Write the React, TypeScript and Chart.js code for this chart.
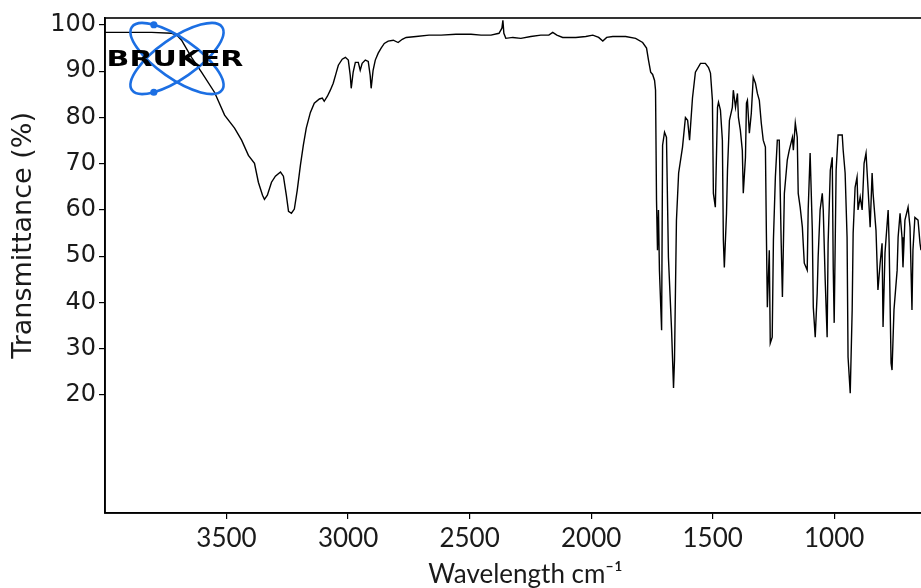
import React, { useEffect, useRef } from 'react';
import { Chart, registerables } from 'chart.js';

Chart.register(...registerables);

// Wavenumber (cm^-1) and transmittance (%)
const wavenumbers = [4000,3808,3726,3705,3685,3644,3603,3549,3508,3467,3438,3410,3385,3369,3352,3344,3332,3315,3299,3278,3266,3254,3245,3233,3221,3209,3196,3184,3172,3155,3139,3118,3106,3098,3085,3073,3061,3048,3040,3024,3011,2999,2991,2987,2979,2970,2958,2950,2942,2929,2917,2909,2905,2897,2888,2876,2864,2851,2835,2814,2794,2777,2761,2720,2667,2617,2556,2494,2453,2412,2379,2367,2363,2359,2351,2322,2289,2248,2207,2174,2158,2141,2117,2063,2022,1993,1969,1952,1936,1911,1858,1817,1788,1772,1764,1755,1747,1739,1735,1731,1727,1723,1719,1710,1706,1698,1690,1682,1669,1661,1657,1649,1640,1624,1612,1603,1595,1583,1571,1550,1530,1517,1509,1501,1497,1489,1480,1476,1468,1460,1456,1452,1443,1439,1431,1419,1415,1406,1398,1394,1386,1378,1374,1365,1361,1357,1349,1341,1333,1324,1316,1308,1300,1292,1283,1279,1275,1267,1263,1255,1250,1242,1234,1226,1218,1213,1205,1193,1185,1172,1168,1160,1152,1148,1140,1131,1123,1111,1107,1099,1090,1086,1078,1070,1066,1058,1049,1045,1037,1029,1025,1016,1008,1004,1000,992,984,967,963,955,947,943,934,926,922,914,906,902,893,885,877,869,861,852,844,840,828,820,811,803,799,791,778,774,766,762,754,741,737,729,721,717,709,696,688,680,676,668,655,647,643];

const transmittance = [98.4,98.4,98.2,97.8,96.7,93.0,89.8,85.4,80.5,77.7,75.1,71.8,70.1,66.0,63.2,62.3,63.2,66.0,67.3,68.2,67.3,63.2,59.7,59.3,60.2,64.3,69.7,74.0,77.7,81.1,83.1,84.0,84.2,83.5,84.6,85.9,87.4,89.8,91.3,92.6,93.0,92.4,89.1,86.3,89.8,91.9,91.9,90.2,91.7,92.4,92.1,89.1,86.3,90.2,92.4,93.9,95.0,96.0,96.5,96.7,96.2,96.9,97.3,97.5,97.8,97.8,98.0,98.0,97.8,97.8,98.2,99.3,101.0,98.2,97.1,97.3,97.1,97.5,97.8,97.8,98.4,97.8,97.3,97.3,97.5,97.8,97.3,96.5,97.3,97.5,97.5,97.1,96.2,95.0,92.4,89.8,89.3,88.0,85.9,62.1,51.3,60.0,47.0,34.0,74.0,76.8,75.7,49.8,34.0,21.5,27.6,57.8,68.0,73.6,80.0,79.4,75.1,84.2,89.8,91.7,91.7,90.8,89.6,83.7,63.6,60.6,82.2,83.3,81.6,75.1,53.5,47.6,59.3,68.6,79.4,82.2,85.9,82.2,85.2,80.0,77.2,72.9,63.6,71.4,83.1,83.7,76.6,80.9,88.7,87.4,85.2,83.7,78.8,75.1,73.6,55.0,39.0,51.3,31.2,32.5,53.5,67.1,75.1,75.1,52.8,41.2,63.6,70.8,72.9,75.7,72.9,78.8,75.7,63.6,60.6,56.3,48.5,47.0,60.0,72.3,55.6,39.0,32.5,42.0,49.8,60.0,63.6,60.0,44.8,32.5,52.8,68.6,71.4,47.6,35.6,68.6,76.2,76.2,72.9,68.0,54.1,28.2,20.4,38.4,55.0,64.9,67.1,60.0,62.8,60.0,70.1,72.3,64.9,56.3,68.0,63.6,55.6,42.7,48.5,52.8,34.7,50.7,60.0,52.8,26.9,25.4,38.4,47.0,54.1,59.3,54.1,47.6,57.8,60.6,56.3,38.4,51.3,58.4,57.8,52.8,51.3];

const xTickValues = [3500, 3000, 2500, 2000, 1500, 1000];
const yTickValues = [20, 30, 40, 50, 60, 70, 80, 90, 100];
const xTitle = 'Wavelength cm\u207B\u00B9';
const yTitle = 'Transmittance (%)';
const logoText = 'BRUKER';

const framePlugin = {
  id: 'frame',
  afterDraw(chart: any) {
    const { ctx, chartArea } = chart;
    ctx.save();
    ctx.strokeStyle = '#000';
    ctx.lineWidth = 1.6;
    ctx.strokeRect(chartArea.left, chartArea.top, chartArea.right - chartArea.left, chartArea.bottom - chartArea.top);
    ctx.restore();
  },
};

const logoPlugin = {
  id: 'brukerLogo',
  afterDatasetsDraw(chart: any) {
    const { ctx, chartArea } = chart;
    const cx = chartArea.left + 72;
    const cy = chartArea.top + 40.5;
    const a = 55, b = 20, th = (35 * Math.PI) / 180;
    ctx.save();
    ctx.strokeStyle = '#1c6fe3';
    ctx.fillStyle = '#1c6fe3';
    ctx.lineWidth = 2.6;
    for (const ang of [th, -th]) {
      ctx.beginPath();
      ctx.ellipse(cx, cy, a, b, ang, 0, Math.PI * 2);
      ctx.stroke();
    }
    const dot = (ang: number, t: number) => {
      const x = cx + a * Math.cos(t) * Math.cos(ang) - b * Math.sin(t) * Math.sin(ang);
      const y = cy + a * Math.cos(t) * Math.sin(ang) + b * Math.sin(t) * Math.cos(ang);
      ctx.beginPath();
      ctx.arc(x, y, 3.6, 0, Math.PI * 2);
      ctx.fill();
    };
    dot(th, Math.PI + 0.8);
    dot(-th, Math.PI - 0.8);
    ctx.translate(cx - 2, cy + 2);
    ctx.scale(1.36, 1);
    ctx.font = 'bold 22px "DejaVu Sans"';
    ctx.textAlign = 'center';
    ctx.textBaseline = 'middle';
    ctx.fillStyle = '#000';
    ctx.fillText(logoText, 0, 0);
    ctx.restore();
  },
};

export default function App() {
  const ref = useRef<HTMLCanvasElement>(null);

  useEffect(() => {
    document.body.style.margin = '0';
    const canvas = ref.current;
    if (!canvas) return;
    const points = wavenumbers.map((w, i) => ({ x: w, y: transmittance[i] }));
    const chart = new Chart(canvas, {
      type: 'line',
      data: {
        datasets: [
          {
            data: points,
            borderColor: '#000',
            borderWidth: 1.4,
            pointRadius: 0,
            tension: 0,
            fill: false,
          },
        ],
      },
      options: {
        animation: false,
        responsive: false,
        events: [],
        layout: { padding: { top: 18, right: 4, left: 0, bottom: 0 } },
        plugins: { legend: { display: false }, tooltip: { enabled: false } },
        scales: {
          x: {
            type: 'linear',
            reverse: true,
            min: 540,
            max: 4000,
            afterBuildTicks: (scale: any) => {
              scale.ticks = xTickValues.map((v) => ({ value: v }));
            },
            afterFit: (scale: any) => {
              scale.height = 75;
            },
            border: { color: '#000', width: 1.6 },
            grid: { drawOnChartArea: false, drawTicks: true, tickLength: 6, color: '#000', lineWidth: 1.2 },
            ticks: {
              color: '#1a1a1a',
              padding: 4,
              maxRotation: 0,
              autoSkip: false,
              font: { family: 'Lato, "DejaVu Sans", sans-serif', size: 26 },
              callback: (v: any) => String(v),
            },
            title: {
              display: true,
              text: xTitle,
              color: '#1a1a1a',
              padding: { top: 0, bottom: -2 },
              font: { family: 'Lato, "DejaVu Sans", sans-serif', size: 26 },
            },
          },
          y: {
            type: 'linear',
            min: -5.5,
            max: 101.5,
            afterBuildTicks: (scale: any) => {
              scale.ticks = yTickValues.map((v) => ({ value: v }));
            },
            afterFit: (scale: any) => {
              scale.width = 105;
            },
            border: { color: '#000', width: 1.6 },
            grid: { drawOnChartArea: false, drawTicks: true, tickLength: 6, color: '#000', lineWidth: 1.2 },
            ticks: {
              color: '#1a1a1a',
              padding: 3,
              autoSkip: false,
              font: { family: '"DejaVu Sans", Verdana, sans-serif', size: 24 },
              callback: (v: any) => String(v),
            },
            title: {
              display: true,
              text: '       ' + yTitle,
              color: '#1a1a1a',
              padding: { top: 8, bottom: 0 },
              font: { family: '"DejaVu Sans", Verdana, sans-serif', size: 27 },
            },
          },
        },
      },
      plugins: [framePlugin, logoPlugin],
    });
    return () => chart.destroy();
  }, []);

  return (
    <div style={{ position: 'absolute', left: 0, top: 0, width: 921, height: 588, overflow: 'hidden', background: '#fff' }}>
      <canvas ref={ref} width={950} height={588} style={{ display: 'block', width: 950, height: 588 }} />
    </div>
  );
}
